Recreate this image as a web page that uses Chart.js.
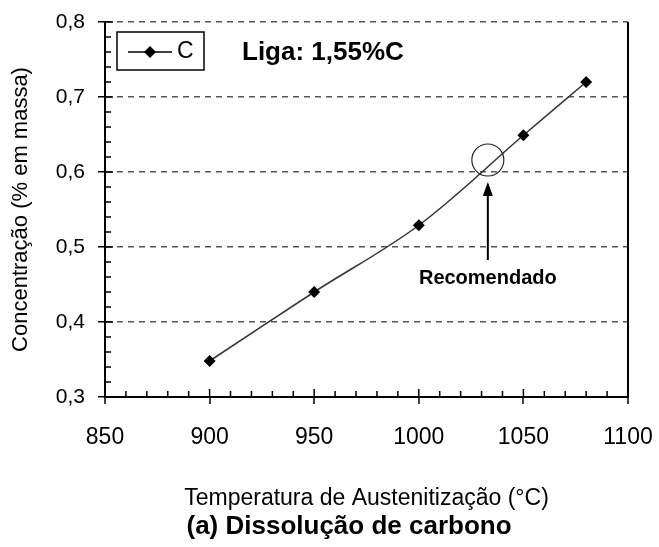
<!DOCTYPE html>
<html>
<head>
<meta charset="utf-8">
<script src="https://cdn.jsdelivr.net/npm/chart.js@4.4.1/dist/chart.umd.min.js"></script>
<style>
  html, body { margin: 0; padding: 0; background: #fff; }
  #wrap { width: 659px; height: 547px; }
</style>
</head>
<body>
<div id="wrap"><canvas id="chart" width="659" height="547"></canvas></div>
<script>
const temperatures = [900, 950, 1000, 1050, 1080];
const carbon = [0.348, 0.44, 0.529, 0.649, 0.72];
const seriesName = "C";
const alloyLabel = "Liga: 1,55%C";
const xTitle = "Temperatura de Austenitização (°C)";
const yTitle = "Concentração (% em massa)";
const caption = "(a) Dissolução de carbono";
const recommendedLabel = "Recomendado";
const recommended = { x: 1033, y: 0.616 };

const FONT = "'Liberation Sans', Arial, sans-serif";

const isMajorY = v => Math.abs(v * 10 - Math.round(v * 10)) < 1e-6;
const isMajorX = v => v % 50 === 0;

const extras = {
  id: "extras",
  afterDraw(chart) {
    const { ctx, chartArea: a, scales: { x, y } } = chart;
    ctx.save();
    // right frame
    ctx.strokeStyle = "#000";
    ctx.lineWidth = 2;
    ctx.beginPath();
    ctx.moveTo(a.right, a.top);
    ctx.lineTo(a.right, a.bottom);
    ctx.stroke();

    // inner ticks
    ctx.lineWidth = 1.5;
    ctx.beginPath();
    x.ticks.forEach(t => {
      const px = x.getPixelForValue(t.value);
      ctx.moveTo(px, a.bottom);
      ctx.lineTo(px, a.bottom - (isMajorX(t.value) ? 8 : 6));
    });
    y.ticks.forEach(t => {
      const py = y.getPixelForValue(t.value);
      ctx.moveTo(a.left, py);
      ctx.lineTo(a.left + (isMajorY(t.value) ? 8 : 6), py);
    });
    ctx.stroke();

    // legend box
    const lx = a.left + 12, ly = a.top + 10;
    ctx.lineWidth = 1.5;
    ctx.strokeRect(lx, ly, 87, 38);
    ctx.beginPath();
    ctx.moveTo(lx + 11, ly + 20);
    ctx.lineTo(lx + 55, ly + 20);
    ctx.stroke();
    ctx.fillStyle = "#000";
    ctx.beginPath();
    ctx.moveTo(lx + 33, ly + 14);
    ctx.lineTo(lx + 39, ly + 20);
    ctx.lineTo(lx + 33, ly + 26);
    ctx.lineTo(lx + 27, ly + 20);
    ctx.closePath();
    ctx.fill();
    ctx.font = "23px " + FONT;
    ctx.textBaseline = "middle";
    ctx.fillText(seriesName, lx + 60, ly + 20);

    // alloy label
    ctx.font = "bold 26px " + FONT;
    ctx.fillText(alloyLabel, a.left + 137, a.top + 31);

    // recommended circle + arrow
    const cx = x.getPixelForValue(recommended.x);
    const cy = y.getPixelForValue(recommended.y);
    ctx.lineWidth = 1.2;
    ctx.strokeStyle = "#222";
    ctx.beginPath();
    ctx.arc(cx, cy, 16, 0, Math.PI * 2);
    ctx.stroke();
    ctx.strokeStyle = "#000";
    ctx.lineWidth = 2;
    ctx.beginPath();
    ctx.moveTo(cx, cy + 100);
    ctx.lineTo(cx, cy + 34);
    ctx.stroke();
    ctx.beginPath();
    ctx.moveTo(cx, cy + 22);
    ctx.lineTo(cx - 5, cy + 36);
    ctx.lineTo(cx + 5, cy + 36);
    ctx.closePath();
    ctx.fill();
    ctx.font = "bold 20px " + FONT;
    ctx.textAlign = "center";
    ctx.fillText(recommendedLabel, cx, cy + 118);

    // caption
    ctx.font = "bold 26px " + FONT;
    ctx.fillText(caption, 349, chart.height - 20);
    ctx.restore();
  }
};

new Chart(document.getElementById("chart"), {
  type: "line",
  data: {
    datasets: [{
      label: seriesName,
      data: temperatures.map((t, i) => ({ x: t, y: carbon[i] })),
      borderColor: "#333",
      borderWidth: 1.5,
      tension: 0.35,
      pointStyle: "rectRot",
      pointRadius: 6,
      pointBackgroundColor: "#000",
      pointBorderColor: "#000",
      pointBorderWidth: 0
    }]
  },
  options: {
    responsive: false,
    animation: false,
    layout: { padding: { left: 8, right: 31, top: 22, bottom: 35 } },
    plugins: { legend: { display: false }, tooltip: { enabled: false } },
    scales: {
      x: {
        type: "linear",
        min: 850, max: 1100,
        ticks: {
          stepSize: 10,
          autoSkip: false,
          maxRotation: 0,
          color: "#000",
          font: { family: FONT, size: 23 },
          padding: 20,
          callback: v => isMajorX(v) ? String(v) : ""
        },
        grid: {
          drawOnChartArea: true,
          color: c => c.tick && c.tick.value === 1100 ? "#000" : "transparent",
          lineWidth: 2,
          tickLength: 7,
          tickColor: c => c.tick && isMajorX(c.tick.value) ? "#000" : "transparent",
          tickWidth: 1.5
        },
        border: { color: "#000", width: 2 },
        title: {
          display: true,
          text: xTitle,
          color: "#000",
          font: { family: FONT, size: 23 },
          padding: { top: 20, bottom: 0 }
        },
        afterFit: s => { s.height = 115; s.paddingLeft = 0; s.paddingRight = 0; }
      },
      y: {
        min: 0.3, max: 0.8,
        ticks: {
          stepSize: 0.02,
          autoSkip: false,
          color: "#000",
          font: { family: FONT, size: 21 },
          padding: 13,
          callback: v => isMajorY(v) ? v.toFixed(1).replace(".", ",") : ""
        },
        grid: {
          color: c => c.tick && isMajorY(c.tick.value) && c.tick.value > 0.31 ? "#555" : "transparent",
          lineWidth: 1.5,
          tickLength: 7,
          tickColor: c => c.tick && isMajorY(c.tick.value) ? "#000" : "transparent",
          tickWidth: 1.5
        },
        border: { color: "#000", width: 2, dash: [6, 5] },
        title: {
          display: true,
          text: yTitle,
          color: "#000",
          font: { family: FONT, size: 22 },
          padding: { top: 0, bottom: 6 }
        },
        afterFit: s => { s.width = 97; s.paddingTop = 0; s.paddingBottom = 0; }
      }
    }
  },
  plugins: [extras]
});
</script>
</body>
</html>
